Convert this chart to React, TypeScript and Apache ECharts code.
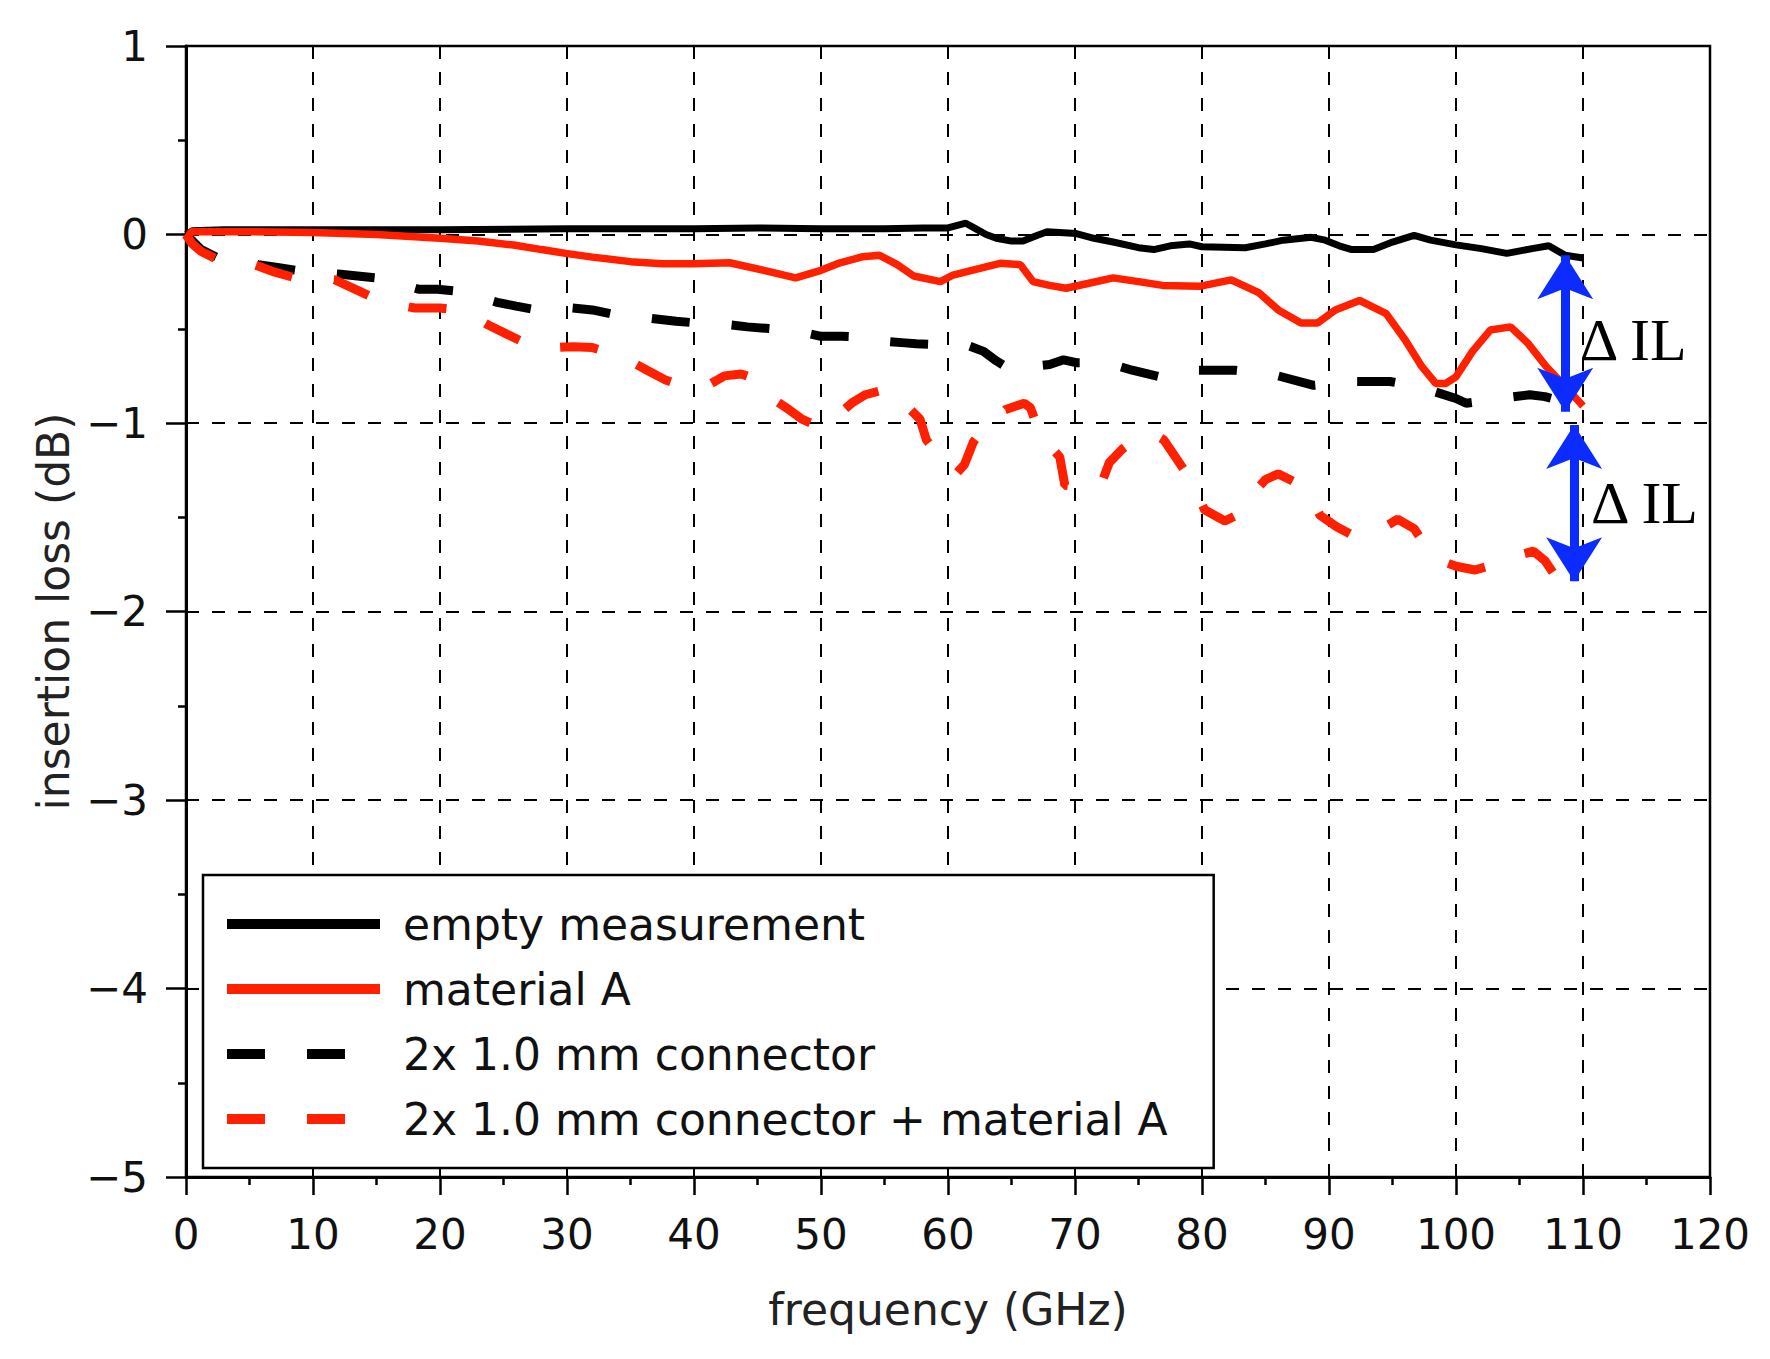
import React, { useEffect, useRef } from "react";
import * as echarts from "echarts";

// ---------- data ----------
const seriesNames = [
  "empty measurement",
  "material A",
  "2x 1.0 mm connector",
  "2x 1.0 mm connector + material A",
];

const xTicks = [0, 10, 20, 30, 40, 50, 60, 70, 80, 90, 100, 110, 120];
const yTicks = [1, 0, -1, -2, -3, -4, -5];

// empty measurement (black solid)
const emptyFreq = [0, 0.5, 3, 10, 20, 30, 40, 45, 50, 55, 58, 60, 61.4, 62.2, 63, 63.8, 65, 65.9, 67, 67.8, 70.1, 71.5, 73, 75, 76.2, 77.5, 79, 80, 83.4, 85, 86.4, 88.6, 89.7, 90.8, 91.8, 93.5, 95, 96.7, 98, 100, 102, 104, 106, 107.3, 108.6, 110];
const emptyVal = [0, 0.02, 0.025, 0.025, 0.025, 0.03, 0.03, 0.035, 0.03, 0.03, 0.035, 0.035, 0.06, 0.03, 0.0, -0.02, -0.035, -0.035, -0.005, 0.015, 0.005, -0.02, -0.04, -0.07, -0.08, -0.06, -0.05, -0.065, -0.07, -0.05, -0.03, -0.015, -0.03, -0.06, -0.08, -0.08, -0.04, -0.005, -0.03, -0.055, -0.075, -0.1, -0.075, -0.06, -0.11, -0.125];

// material A (red solid)
const matFreq = [0, 0.4, 5, 10, 15, 20, 23, 25.8, 28, 29.9, 32, 35, 37.5, 39.9, 42.8, 45.5, 48, 50, 51.5, 53.3, 54.6, 56, 57.3, 59.4, 60.4, 62.5, 64.1, 65.7, 66.7, 68, 69.3, 71, 73, 75, 76.9, 79.8, 82.3, 84.5, 86, 87.8, 89.1, 90.5, 92.4, 94.5, 96, 97.3, 98.4, 99.2, 100, 101.3, 102.7, 104.3, 105.7, 107.1, 108.5, 110];
const matVal = [-0.03, 0.015, 0.015, 0.01, 0.0, -0.02, -0.035, -0.056, -0.08, -0.1, -0.12, -0.144, -0.155, -0.155, -0.15, -0.19, -0.23, -0.19, -0.15, -0.118, -0.11, -0.16, -0.22, -0.25, -0.215, -0.18, -0.153, -0.16, -0.25, -0.27, -0.285, -0.26, -0.23, -0.25, -0.27, -0.275, -0.241, -0.31, -0.4, -0.47, -0.47, -0.4, -0.35, -0.42, -0.56, -0.7, -0.79, -0.79, -0.755, -0.62, -0.507, -0.49, -0.58, -0.7, -0.8, -0.91];

// 2x 1.0 mm connector (black dashed)
const connFreq = [0, 1.2, 2.4, 4, 5.7, 7.2, 8.7, 10.4, 12, 13.5, 15, 16.7, 18.3, 19.8, 21.3, 23, 24.5, 26, 27.6, 29, 30.4, 32, 33.4, 34.7, 36, 38.6, 40.3, 42.3, 44.2, 46.1, 48, 50, 51.6, 53.6, 54.8, 56.6, 57.5, 59.2, 61, 61.6, 62.8, 63.8, 65, 66.5, 68, 69.1, 70.1, 72.2, 73.5, 74.5, 77, 78.3, 79.5, 82.6, 84, 85.7, 88.8, 90.5, 92, 94.8, 96.5, 97.9, 100, 100.8, 102, 103.4, 105.8, 107, 108.1, 110.3];
const connVal = [0, -0.08, -0.12, -0.14, -0.16, -0.175, -0.19, -0.2, -0.21, -0.22, -0.23, -0.26, -0.29, -0.29, -0.3, -0.33, -0.36, -0.38, -0.4, -0.4, -0.39, -0.4, -0.42, -0.43, -0.44, -0.46, -0.47, -0.475, -0.49, -0.5, -0.51, -0.54, -0.54, -0.545, -0.565, -0.575, -0.58, -0.585, -0.59, -0.59, -0.62, -0.67, -0.72, -0.7, -0.69, -0.665, -0.68, -0.68, -0.7, -0.72, -0.76, -0.74, -0.72, -0.72, -0.73, -0.745, -0.8, -0.79, -0.78, -0.78, -0.8, -0.825, -0.87, -0.895, -0.885, -0.87, -0.85, -0.86, -0.88, -0.915];

// 2x 1.0 mm connector + material A (red dashed)
const connMatFreq = [0, 0.5, 1.2, 2.4, 4, 5.4, 7, 8.6, 10, 11.7, 13.3, 14.9, 16.5, 18, 20, 21.2, 22.5, 23.8, 25.3, 26.7, 28, 29.1, 30.5, 32, 33.5, 34.8, 36.3, 37.7, 39, 41.1, 42.4, 43.7, 45, 46.4, 47.5, 48.5, 49.5, 50.1, 51.3, 52.5, 53.5, 54.6, 55.8, 56.9, 57.8, 58.3, 59.5, 60.7, 61.3, 62, 62.7, 63.4, 64.5, 66, 66.5, 67.3, 68.8, 69.2, 70.5, 71.7, 72.2, 72.7, 73.7, 74.7, 76, 77, 78, 79, 80.2, 81.8, 83.3, 84.2, 85, 86, 87.8, 88.6, 89.3, 90.6, 92, 93.7, 95.4, 96.7, 97.6, 98.4, 100, 101.5, 102.5, 103.6, 105, 106.1, 107, 107.7, 109, 110];
const connMatVal = [0, -0.05, -0.09, -0.13, -0.15, -0.16, -0.2, -0.23, -0.23, -0.24, -0.29, -0.34, -0.37, -0.39, -0.39, -0.4, -0.43, -0.48, -0.53, -0.575, -0.6, -0.6, -0.595, -0.6, -0.63, -0.665, -0.72, -0.77, -0.8, -0.8, -0.75, -0.74, -0.77, -0.88, -0.93, -0.98, -1.01, -1.02, -0.96, -0.89, -0.85, -0.83, -0.83, -0.92, -0.98, -1.09, -1.19, -1.265, -1.22, -1.1, -1.04, -1.0, -0.93, -0.895, -0.92, -1.07, -1.18, -1.33, -1.34, -1.35, -1.3, -1.21, -1.14, -1.09, -1.05, -1.09, -1.19, -1.29, -1.46, -1.52, -1.47, -1.36, -1.3, -1.27, -1.33, -1.4, -1.49, -1.55, -1.6, -1.58, -1.51, -1.56, -1.65, -1.72, -1.76, -1.78, -1.76, -1.73, -1.7, -1.68, -1.73, -1.8, -1.87, -1.94];

// ΔIL annotations
const arrowFreq = [108.6, 109.3];
const arrowTop = [-0.11, -1.01];
const arrowBottom = [-0.94, -1.84];
const deltaLabelFreq = [109.7, 110.6];
const deltaLabelVal = [-0.56, -1.424];
const deltaLabelText = "\u0394 IL";

// ---------- styles ----------
const BLACK = "#000000";
const RED = "#ff2000";
const BLUE = "#0b2bff";
const FONT = "'DejaVu Sans', Verdana, sans-serif";
const DASH = [38, 42];

const zip = (xs: number[], ys: number[]) => xs.map((x, i) => [x, ys[i]]);
const fmtY = (v: number) => (v < 0 ? "\u2212" + Math.abs(v) : String(v));

export default function App() {
  const ref = useRef<HTMLDivElement>(null);

  useEffect(() => {
    document.body.style.margin = "0";
    const chart = echarts.init(ref.current!, null, { renderer: "svg" });

    const axisLine = { show: true, onZero: false, lineStyle: { color: BLACK, width: 3 } };
    const gridDash = { show: true, lineStyle: { color: BLACK, width: 2, type: [13, 13] } };

    const option: any = {
      animation: false,
      backgroundColor: "#ffffff",
      grid: {
        left: 186,
        top: 46,
        width: 1524,
        height: 1131,
        show: true,
        borderColor: BLACK,
        borderWidth: 2.5,
        backgroundColor: "transparent",
      },
      xAxis: {
        type: "value",
        min: xTicks[0],
        max: xTicks[xTicks.length - 1],
        interval: xTicks[1] - xTicks[0],
        axisLine,
        axisTick: { show: true, inside: false, length: 18, lineStyle: { color: BLACK, width: 2.5 } },
        minorTick: { show: true, splitNumber: 2, length: 8, lineStyle: { color: BLACK, width: 2.5 } },
        splitLine: gridDash,
        axisLabel: { fontSize: 42, margin: 36, color: "#111", fontFamily: FONT },
        name: "frequency (GHz)",
        nameLocation: "middle",
        nameGap: 110,
        nameTextStyle: { fontSize: 44, color: "#222", fontFamily: FONT },
      },
      yAxis: {
        type: "value",
        min: yTicks[yTicks.length - 1],
        max: yTicks[0],
        interval: yTicks[0] - yTicks[1],
        axisLine,
        axisTick: { show: true, inside: false, length: 20, lineStyle: { color: BLACK, width: 2.5 } },
        minorTick: { show: true, splitNumber: 2, length: 8, lineStyle: { color: BLACK, width: 2.5 } },
        splitLine: gridDash,
        axisLabel: { fontSize: 42, margin: 38, color: "#111", fontFamily: FONT, formatter: fmtY },
        name: "insertion loss (dB)",
        nameLocation: "middle",
        nameGap: 110,
        nameRotate: 90,
        nameTextStyle: { fontSize: 44, color: "#222", fontFamily: FONT },
      },
      legend: {
        orient: "vertical",
        left: 203,
        top: 875,
        padding: [27, 46, 27, 19],
        itemGap: 21,
        itemWidth: 153,
        itemHeight: 14,
        borderColor: BLACK,
        borderWidth: 2.5,
        borderRadius: 0,
        backgroundColor: "#ffffff",
        selectedMode: false,
        textStyle: { fontSize: 44, color: "#111", fontFamily: FONT, padding: [0, 0, 0, 18] },
        lineStyle: { width: 10 },
        itemStyle: { opacity: 0 },
        data: seriesNames,
      },
      series: [
        {
          name: seriesNames[0],
          type: "line",
          symbol: "none",
          data: zip(emptyFreq, emptyVal),
          lineStyle: { color: BLACK, width: 7 },
          itemStyle: { color: BLACK },
          z: 3,
          markLine: {
            silent: true,
            symbol: ["arrow", "arrow"],
            symbolSize: [42, 44],
            label: { show: false },
            lineStyle: { color: BLUE, width: 9, type: "solid" },
            emphasis: { disabled: true },
            data: arrowFreq.map((f, i) => [
              { coord: [f, arrowTop[i]] },
              { coord: [f, arrowBottom[i]] },
            ]),
          },
          markPoint: {
            silent: true,
            symbol: "circle",
            symbolSize: 1,
            itemStyle: { color: "transparent" },
            label: {
              show: true,
              position: "right",
              distance: 0,
              formatter: deltaLabelText,
              fontSize: 60,
              fontFamily: "'Liberation Serif', 'DejaVu Serif', serif",
              color: BLACK,
            },
            data: deltaLabelFreq.map((f, i) => ({ coord: [f, deltaLabelVal[i]] })),
          },
        },
        {
          name: seriesNames[1],
          type: "line",
          symbol: "none",
          data: zip(matFreq, matVal),
          lineStyle: { color: RED, width: 7.5 },
          itemStyle: { color: RED },
          z: 4,
        },
        {
          name: seriesNames[2],
          type: "line",
          symbol: "none",
          data: zip(connFreq, connVal),
          lineStyle: { color: BLACK, width: 9, type: DASH },
          itemStyle: { color: BLACK },
          z: 3,
        },
        {
          name: seriesNames[3],
          type: "line",
          symbol: "none",
          data: zip(connMatFreq, connMatVal),
          lineStyle: { color: RED, width: 9, type: DASH },
          itemStyle: { color: RED },
          z: 4,
        },
      ],
    };

    chart.setOption(option);
    return () => chart.dispose();
  }, []);

  return <div ref={ref} style={{ width: 1770, height: 1359 }} />;
}
